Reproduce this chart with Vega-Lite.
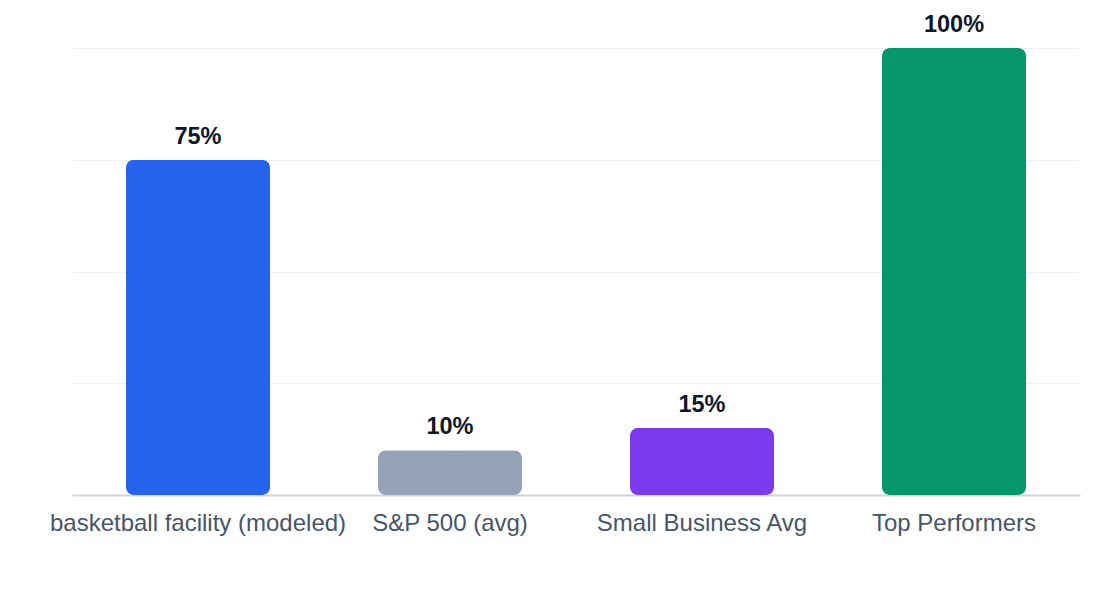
{
  "$schema": "https://vega.github.io/schema/vega-lite/v6.json",
  "width": 1008,
  "height": 447,
  "autosize": "none",
  "padding": {"left": 72, "top": 48, "right": 40, "bottom": 105},
  "background": "white",
  "data": {
    "values": [
      {"category": "basketball facility (modeled)", "value": 75, "label": "75%"},
      {"category": "S&P 500 (avg)", "value": 10, "label": "10%"},
      {"category": "Small Business Avg", "value": 15, "label": "15%"},
      {"category": "Top Performers", "value": 100, "label": "100%"}
    ]
  },
  "encoding": {
    "x": {
      "field": "category",
      "type": "nominal",
      "sort": null,
      "title": null,
      "scale": {"paddingInner": 0.4286, "paddingOuter": 0.2143},
      "axis": {
        "labelAngle": 0,
        "labelFont": "Liberation Sans",
        "labelFontSize": 24,
        "labelColor": "#475569",
        "labelPadding": 16,
        "labelLimit": 0,
        "ticks": false,
        "domainColor": "#cbd5e1",
        "domainWidth": 2,
        "grid": false
      }
    },
    "y": {
      "field": "value",
      "type": "quantitative",
      "title": null,
      "scale": {"domain": [0, 100]},
      "axis": {
        "values": [0, 25, 50, 75, 100],
        "labels": false,
        "ticks": false,
        "domain": false,
        "gridColor": "#eceff3",
        "gridWidth": 1
      }
    }
  },
  "layer": [
    {
      "mark": {"type": "bar", "cornerRadius": 8},
      "encoding": {
        "color": {
          "field": "category",
          "type": "nominal",
          "legend": null,
          "scale": {
            "domain": ["basketball facility (modeled)", "S&P 500 (avg)", "Small Business Avg", "Top Performers"],
            "range": ["#2563eb", "#94a3b8", "#7c3aed", "#059669"]
          }
        }
      }
    },
    {
      "mark": {
        "type": "text",
        "baseline": "bottom",
        "dy": -11,
        "font": "Liberation Sans",
        "fontSize": 23.5,
        "fontWeight": "bold",
        "color": "#0f172a"
      },
      "encoding": {
        "text": {"field": "label", "type": "nominal"}
      }
    }
  ],
  "config": {
    "view": {"stroke": null}
  }
}
